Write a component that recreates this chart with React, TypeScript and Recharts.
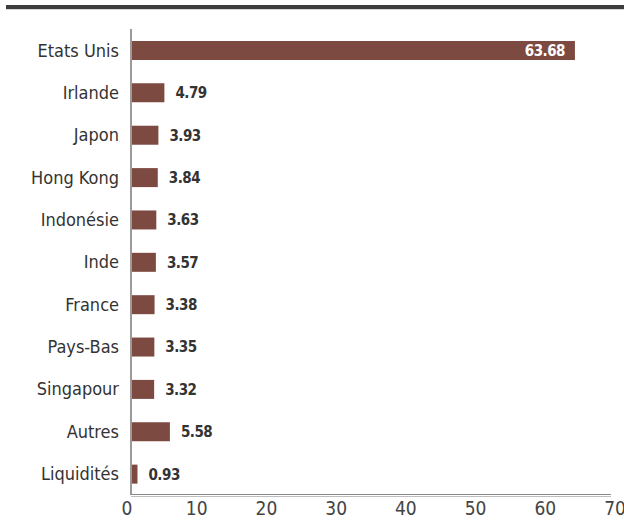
import { BarChart, Bar, XAxis, YAxis, LabelList } from 'recharts'

const countries = ['Etats Unis', 'Irlande', 'Japon', 'Hong Kong', 'Indonésie', 'Inde', 'France', 'Pays-Bas', 'Singapour', 'Autres', 'Liquidités']
const weights = [63.68, 4.79, 3.93, 3.84, 3.63, 3.57, 3.38, 3.35, 3.32, 5.58, 0.93]
const xTicks = [0, 10, 20, 30, 40, 50, 60, 70]

const data = countries.map((name, i) => ({ name, value: weights[i] }))

const FONT = '"DejaVu Sans", sans-serif'

// values go right of the bar, except the big one which sits inside in white
const renderValue = (props: any) => {
  const { x, y, width, height, value } = props
  const inside = value > 50
  return (
    <text
      x={inside ? x + width - 10 : x + width + 11}
      y={y + height / 2}
      dy="0.36em"
      textAnchor={inside ? 'end' : 'start'}
      fill={inside ? '#ffffff' : '#333333'}
      fontWeight="bold"
      fontSize={15}
      style={{ fontStretch: 'condensed', letterSpacing: -0.5 }}
    >
      {value.toFixed(2)}
    </text>
  )
}

export default function App() {
  return (
    <div style={{ position: 'absolute', left: 0, top: 0, width: 624, height: 530, background: '#fff', fontFamily: FONT, fontStretch: 'condensed' }}>
      {/* heavy rule on top */}
      <div style={{ position: 'absolute', left: 6, top: 5, width: 618, height: 4, background: '#3d3d3d' }} />
      <div style={{ position: 'absolute', left: 6, top: 9, width: 618, height: 1, background: '#d8d8d8' }} />
      <BarChart
        width={624}
        height={530}
        data={data}
        layout="vertical"
        margin={{ top: 29, right: 5, left: 0, bottom: 0 }}
        barSize={19}
      >
        <XAxis
          type="number"
          domain={[0, 70]}
          ticks={xTicks}
          axisLine={false}
          tickLine={false}
          tickSize={0}
          tickMargin={7}
          height={35}
          interval={0}
          tick={{ fill: '#444', fontSize: 19, dx: -4, style: { fontStretch: 'condensed' } }}
        />
        <YAxis
          type="category"
          dataKey="name"
          width={131}
          axisLine={{ stroke: '#9a9a9a', strokeWidth: 2 }}
          tickLine={false}
          tickSize={0}
          tickMargin={12}
          interval={0}
          tick={{ fill: '#333', fontSize: 18, style: { fontStretch: 'condensed' } }}
        />
        <Bar dataKey="value" fill="#7d4a41" isAnimationActive={false}>
          <LabelList dataKey="value" content={renderValue} />
        </Bar>
      </BarChart>
      {/* double rule under the plot */}
      <div style={{ position: 'absolute', left: 131, top: 494, width: 480, height: 1, background: '#8a8a8a' }} />
      <div style={{ position: 'absolute', left: 131, top: 496, width: 480, height: 1, background: '#bdbdbd' }} />
    </div>
  )
}
